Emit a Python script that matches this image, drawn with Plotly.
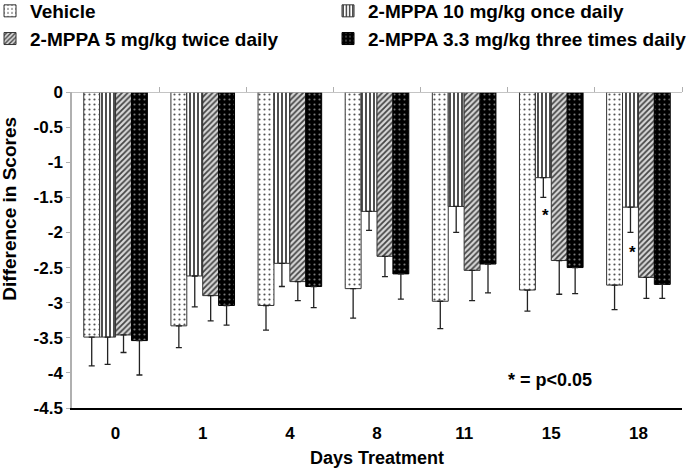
import plotly.graph_objects as go

days = ["0", "1", "4", "8", "11", "15", "18"]
series_names = ["Vehicle", "2-MPPA 10 mg/kg once daily",
                "2-MPPA 5 mg/kg twice daily", "2-MPPA 3.3 mg/kg three times daily"]
vehicle = [-3.49, -3.33, -3.04, -2.80, -2.98, -2.82, -2.75]
vehicle_err = [0.41, 0.31, 0.35, 0.42, 0.39, 0.30, 0.35]
mppa10 = [-3.49, -2.62, -2.44, -1.70, -1.63, -1.22, -1.64]
mppa10_err = [0.39, 0.44, 0.33, 0.27, 0.37, 0.28, 0.36]
mppa5 = [-3.46, -2.90, -2.70, -2.34, -2.54, -2.40, -2.64]
mppa5_err = [0.25, 0.36, 0.27, 0.29, 0.43, 0.48, 0.30]
mppa33 = [-3.54, -3.04, -2.77, -2.59, -2.45, -2.50, -2.74]
mppa33_err = [0.49, 0.28, 0.30, 0.36, 0.41, 0.37, 0.20]
sig_days = [5, 6]
sig_y = [-1.76, -2.29]
y_ticks = [0, -0.5, -1, -1.5, -2, -2.5, -3, -3.5, -4, -4.5]

values = [vehicle, mppa10, mppa5, mppa33]
errors = [vehicle_err, mppa10_err, mppa5_err, mppa33_err]
legend_ids = ["legend", "legend2", "legend", "legend2"]
xpos = list(range(len(days)))

styles = [
    dict(color="white", pattern=dict(shape=".", fgcolor="#555555", bgcolor="white", size=5, solidity=0.15, fillmode="replace"), line="#333333"),
    dict(color="white", pattern=dict(shape="|", fgcolor="#222222", bgcolor="white", size=4, solidity=0.4, fillmode="replace"), line="#333333"),
    dict(color="#bbbbbb", pattern=dict(shape="/", fgcolor="#444444", bgcolor="#d8d8d8", size=4, solidity=0.45, fillmode="replace"), line="#333333"),
    dict(color="black", pattern=dict(shape=".", fgcolor="#777777", bgcolor="black", size=5, solidity=0.15, fillmode="replace"), line="#000000"),
]

fig = go.Figure()
for i, (name, v, e, st, lg) in enumerate(zip(series_names, values, errors, styles, legend_ids)):
    fig.add_trace(go.Bar(
        x=xpos, y=v, name=name, legend=lg, legendgroup=f"g{i}",
        marker=dict(color=st["color"], pattern=st["pattern"],
                    line=dict(color=st["line"], width=1)),
        error_y=dict(type="data", array=[0]*len(e), arrayminus=e, symmetric=False,
                     color="#222222", thickness=1.3, width=3),
    ))

# top axis line at y = 0 with category-boundary ticks
fig.add_trace(go.Scatter(x=[-0.5, 6.5], y=[0, 0], xaxis="x2", mode="lines",
                         line=dict(color="#b0b0b0", width=1.5), showlegend=False,
                         hoverinfo="skip"))

bold = dict(family="Arial, Liberation Sans", color="black", weight="bold")

for d, yv in zip(sig_days, sig_y):
    fig.add_annotation(x=d, y=yv, text="*", showarrow=False, xshift=-6,
                       font=dict(size=17, **bold))

fig.add_annotation(x=0.711, y=0.089, xref="paper", yref="paper", text="* = p<0.05",
                   showarrow=False, xanchor="left", yanchor="middle",
                   font=dict(size=18, **bold))

fig.add_annotation(x=-0.102, y=0.63, xref="paper", yref="paper", text="Difference in Scores",
                   showarrow=False, xanchor="center", yanchor="middle", textangle=-90,
                   font=dict(size=19, **bold))

leg_common = dict(orientation="v", xref="paper", yref="paper", y=1.3165,
                  xanchor="left", yanchor="top", font=dict(size=19, **bold),
                  itemwidth=30, traceorder="grouped", tracegroupgap=0,
                  bgcolor="rgba(0,0,0,0)")

fig.update_layout(
    width=694, height=468,
    margin=dict(l=72, r=12, t=92, b=60, autoexpand=False),
    plot_bgcolor="white", paper_bgcolor="white",
    barmode="group", bargap=0.27, bargroupgap=0,
    font=dict(family="Arial, Liberation Sans", size=14, color="black"),
    legend=dict(x=-0.1344, **leg_common),
    legend2=dict(x=0.4197, **leg_common),
    xaxis=dict(tickmode="array", tickvals=xpos, ticktext=days,
               range=[-0.5, 6.5], showline=True, linecolor="black", linewidth=1.5,
               ticks="", showgrid=False, zeroline=False, ticklabelstandoff=9,
               title=dict(text="Days Treatment", font=dict(size=18, **bold), standoff=10),
               tickfont=dict(size=17, **bold)),
    xaxis2=dict(overlaying="x", side="top", anchor="free", position=1.0, range=[-0.5, 6.5],
                tickmode="array", tickvals=[0.5, 1.5, 2.5, 3.5, 4.5, 5.5, 6.5],
                ticks="outside", ticklen=5, tickcolor="#b0b0b0", showticklabels=False,
                showline=False, showgrid=False, zeroline=False),
    yaxis=dict(range=[-4.5, 0], tickmode="array", tickvals=y_ticks,
               ticktext=[f"{t:g}" for t in y_ticks],
               showline=True, linecolor="#b0b0b0", linewidth=1.5, ticks="outside",
               ticklen=4, tickcolor="#b0b0b0", showgrid=False, zeroline=False,
               tickfont=dict(size=17, **bold)),
)

fig.write_html("out.html", config={"displayModeBar": False},
               post_script="document.body.style.margin='0px';")
